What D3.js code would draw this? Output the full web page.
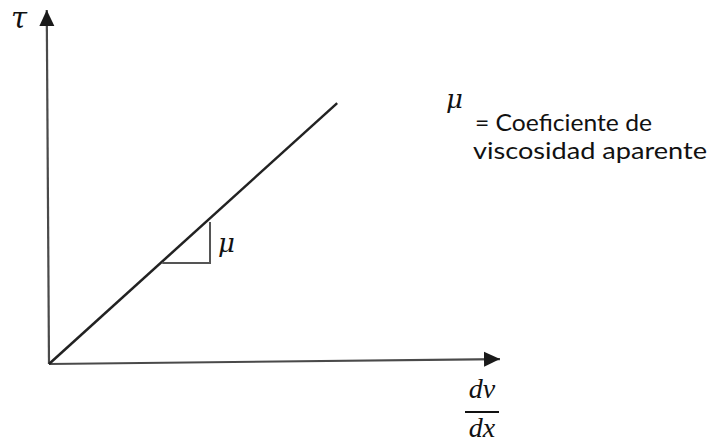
<!DOCTYPE html>
<html lang="es">
<head>
  <meta charset="UTF-8">
  <title>Viscosidad aparente</title>
  <script src="https://cdn.jsdelivr.net/npm/d3@7"></script>
  <style>
    body { margin: 0; background: #fff; }
    .math { font-family: 'DejaVu Serif', 'Liberation Serif', serif; font-style: italic; fill: #111; }
    .frac { font-family: 'Liberation Serif', 'DejaVu Serif', serif; }
    .nota { font-family: Lato, 'Open Sans', 'Liberation Sans', sans-serif; fill: #111; }
  </style>
</head>
<body>
<div id="grafica"></div>
<script>
// datos (unidades del diagrama)
ejeY     = [[0, 0], [-0.05, 10]]
ejeX     = [[0, 0], [10, 0.14]]
recta    = [[0, 0], [6.39, 7.37]]
triangulo = [[2.51, 2.85], [3.57, 2.85], [3.57, 4.01]]
etiquetas = ['\u03C4', '\u03BC', '\u03BC']
nota     = ['= Coeficiente de', 'viscosidad aparente']
fraccion = ['dv', 'dx']

ancho = 712
alto  = 442

svg = d3.select('#grafica')
        .append('svg')
        .attr('width', ancho)
        .attr('height', alto)

x = d3.scaleLinear()
      .domain([0, 10])
      .range([49, 500])
y = d3.scaleLinear()
      .domain([0, 10])
      .range([364, 10])

// flechas
defs = svg.append('defs')
defs.append('marker')
    .attr('id', 'flecha')
    .attr('markerUnits', 'userSpaceOnUse')
    .attr('viewBox', '0 0 16 16')
    .attr('refX', 16)
    .attr('refY', 8)
    .attr('markerWidth', 16)
    .attr('markerHeight', 16)
    .attr('orient', 'auto')
  .append('path')
    .attr('d', 'M0,0.5 L16,8 L0,15.5 Z')
    .attr('fill', '#1a1a1a')

linea = d3.line()
          .x(d => x(d[0]))
          .y(d => y(d[1]))

svg.append('path')
   .datum(ejeY)
   .attr('d', linea)
   .attr('stroke', '#4a4a4a')
   .attr('stroke-width', 2.2)
   .attr('fill', 'none')
   .attr('marker-end', 'url(#flecha)')

svg.append('path')
   .datum(ejeX)
   .attr('d', linea)
   .attr('stroke', '#4a4a4a')
   .attr('stroke-width', 2.2)
   .attr('fill', 'none')
   .attr('marker-end', 'url(#flecha)')

svg.append('path')
   .datum(recta)
   .attr('d', linea)
   .attr('stroke', '#222')
   .attr('stroke-width', 2.5)
   .attr('fill', 'none')

svg.append('path')
   .datum(triangulo)
   .attr('d', linea)
   .attr('stroke', '#555')
   .attr('stroke-width', 2)
   .attr('fill', 'none')

// etiquetas
svg.append('text')
   .attr('class', 'math')
   .attr('x', 11)
   .attr('y', 28)
   .attr('font-size', 29)
   .text(etiquetas[0])

svg.append('text')
   .attr('class', 'math')
   .attr('x', 218)
   .attr('y', 252)
   .attr('font-size', 26)
   .text(etiquetas[1])

svg.append('text')
   .attr('class', 'math')
   .attr('x', 446)
   .attr('y', 108)
   .attr('font-size', 26)
   .text(etiquetas[2])

svg.selectAll('text.nota')
   .data(nota)
   .enter()
   .append('text')
   .attr('class', 'nota')
   .attr('x', (d, i) => i == 0 ? 475 : 473)
   .attr('y', (d, i) => 131 + i * 28)
   .attr('font-size', 24)
   .attr('textLength', (d, i) => i == 0 ? 177 : 234)
   .attr('lengthAdjust', 'spacingAndGlyphs')
   .text(d => d)

svg.selectAll('text.frac')
   .data(fraccion)
   .enter()
   .append('text')
   .attr('class', 'math frac')
   .attr('x', 482)
   .attr('y', (d, i) => i == 0 ? 398 : 437)
   .attr('font-size', 28)
   .attr('text-anchor', 'middle')
   .text(d => d)

svg.append('line')
   .attr('x1', 465)
   .attr('x2', 499)
   .attr('y1', 412)
   .attr('y2', 412)
   .attr('stroke', '#111')
   .attr('stroke-width', 1.8)
</script>
</body>
</html>
